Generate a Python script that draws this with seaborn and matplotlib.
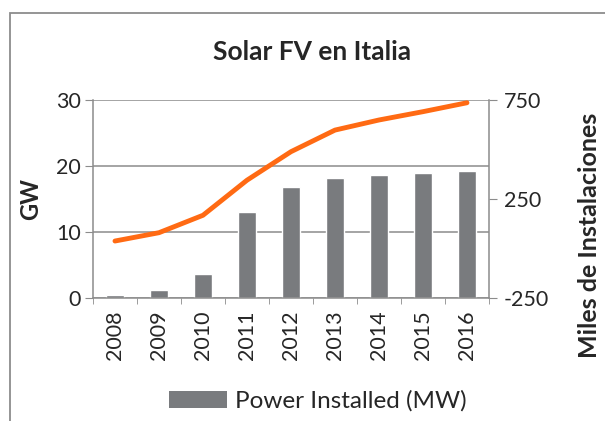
#!/usr/bin/env python3

import pandas as pd
import seaborn as sns
import matplotlib.pyplot as plt
from matplotlib.patches import Rectangle, Patch

# -----------------------------------------------------------------------------
# Data
# -----------------------------------------------------------------------------

years = ["2008", "2009", "2010", "2011", "2012", "2013", "2014", "2015", "2016"]
power_gw = [0.45, 1.25, 3.6, 13.1, 16.8, 18.15, 18.6, 18.9, 19.3]
installs_k = [38, 80, 168, 345, 489, 598, 649, 691, 736]

left_ticks = [0, 10, 20, 30]
right_ticks = [-250, 250, 750]

BAR_COLOR = "#797B7E"
LINE_COLOR = "#FF6A13"
GRID_COLOR = "#8C8C8C"

# -----------------------------------------------------------------------------
# Plot
# -----------------------------------------------------------------------------

def main():
    sns.set_style("white")
    plt.rcParams["font.family"] = ["Lato", "DejaVu Sans"]
    plt.rcParams["axes.unicode_minus"] = False

    df = pd.DataFrame({"year": years, "power": power_gw, "installs": installs_k})

    fig = plt.figure(figsize=(6.05, 4.21), dpi=100)
    ax = fig.add_axes([0.1537, 0.292, 0.6545, 0.4705])

    sns.barplot(data=df, x="year", y="power", color=BAR_COLOR, width=0.39,
                saturation=1, ax=ax)
    ax.set_ylim(0, 30)
    ax.set_yticks(left_ticks)
    ax.set_xlim(-0.5, len(years) - 0.5)
    ax.yaxis.grid(True, color=GRID_COLOR, linewidth=1.1)
    ax.set_axisbelow(True)
    ax.set_xlabel("")
    ax.set_ylabel("")
    ax.tick_params(axis="y", labelsize=15.5, length=5.5, color=GRID_COLOR, pad=3,
                   left=True)
    ax.tick_params(axis="x", labelsize=15.5, rotation=90, length=0, pad=9)
    ax.set_xticks([i - 0.5 for i in range(len(years) + 1)], minor=True)
    ax.tick_params(axis="x", which="minor", length=4, color=GRID_COLOR,
                   bottom=True)
    for side in ["left", "right", "bottom"]:
        ax.spines[side].set_color(GRID_COLOR)
        ax.spines[side].set_linewidth(1.1)
    ax.spines["top"].set_visible(False)

    ax2 = ax.twinx()
    sns.lineplot(data=df, x="year", y="installs", color=LINE_COLOR,
                 linewidth=3.5, ax=ax2, sort=False)
    ax2.set_ylim(-250, 750)
    ax2.set_yticks(right_ticks)
    ax2.set_ylabel("")
    ax2.tick_params(axis="y", labelsize=15.5, length=5.5, color=GRID_COLOR, pad=5,
                    right=True)
    for side in ["left", "right", "bottom", "top"]:
        ax2.spines[side].set_visible(False)
    ax2.set_xlim(-0.5, len(years) - 0.5)

    fig.text(0.516, 0.876, "Solar FV en Italia", ha="center", va="center",
             fontsize=19, fontweight="bold")
    fig.text(0.051, 0.527, "GW", ha="center", va="center", rotation=90,
             fontsize=17, fontweight="bold")
    fig.text(0.975, 0.44, "Miles de Instalaciones", ha="center", va="center",
             rotation=90, fontsize=18, fontweight="bold")

    handle = Patch(facecolor=BAR_COLOR, edgecolor="none")
    fig.legend([handle], ["Power Installed (MW)"], loc="center",
               bbox_to_anchor=(0.525, 0.047), frameon=False, fontsize=17.5,
               handlelength=2.4, handleheight=0.7, handletextpad=0.3)

    # outer chart frame (cut off at the right and bottom)
    fig.patches.append(Rectangle((0.0165, -0.05), 1.1, 1.019, transform=fig.transFigure,
                                 fill=False, edgecolor="#8C8C8C", linewidth=1.3))

    fig.savefig("out.png", dpi=100)
    plt.close(fig)


if __name__ == "__main__":
    main()
